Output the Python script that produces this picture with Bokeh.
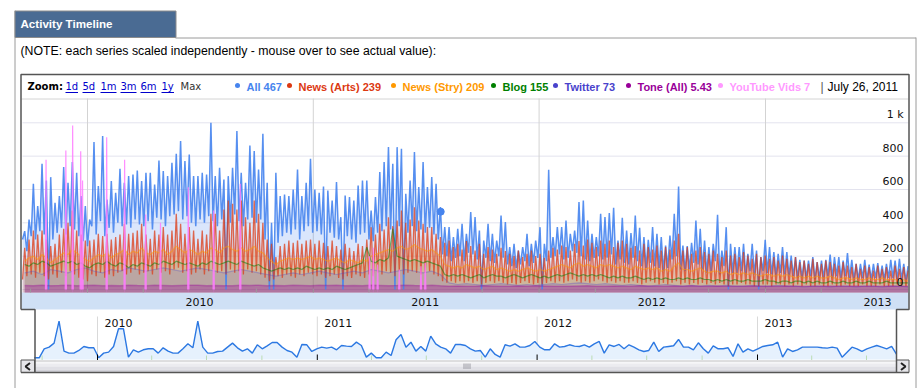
import datetime as dt
from bokeh.plotting import figure
from bokeh.models import Range1d
from bokeh.core.properties import value
from bokeh.embed import file_html
from bokeh.resources import INLINE

# ---------------------------------------------------------------- data
series_start = "2009-09-18"
series_end = "2013-08-20"

# "All" series: weekly high (weekday) and low (weekend) values
all_peak = [350, 420, 634, 500, 754, 654, 674, 520, 560, 734,
            640, 764, 700, 560, 500, 420, 884, 620, 920, 540,
            650, 580, 724, 640, 680, 690, 714, 650, 700, 700,
            630, 774, 710, 680, 760, 814, 890, 770, 810, 680,
            680, 700, 690, 1000, 680, 730, 660, 680, 730, 950,
            700, 640, 864, 830, 720, 934, 640, 400, 700, 560,
            570, 560, 600, 720, 560, 640, 784, 600, 580,
            618, 594, 534, 644, 434, 564, 554, 534, 624, 654,
            654, 474, 554, 704, 764, 854, 754, 854, 844, 574,
            654, 824, 614, 764, 614, 674, 634, 494, 374, 374,
            314, 364, 394, 334, 464, 434, 354, 294, 394, 334,
            294, 444, 404, 254, 274, 234, 254, 334, 274, 294,
            374, 274, 718, 314, 374, 374, 414, 334, 354, 524,
            534, 414, 334, 314, 454,
            434, 458, 490, 294, 430, 354, 338, 444, 370, 314,
            298, 374, 334, 314, 264, 324, 454, 618, 264, 260,
            280, 414, 364, 294, 254, 274, 448, 234, 374, 274,
            254, 254, 274, 214, 274, 234, 194, 298, 254, 224,
            214, 254, 224, 204, 194, 178, 174, 174, 194, 164,
            174, 178, 210, 194, 194, 174, 218, 178, 154, 154,
            178, 150, 154, 158, 144, 154, 178, 174, 184, 154, 140]
all_low = [300, 230, 320, 300, 350, 330, 0, 300, 340, 370,
           330, 380, 360, 320, 290, 260, 380, 330, 410, 320,
           370, 340, 400, 380, 390, 370, 420, 390, 380, 410,
           360, 430, 420, 380, 440, 450, 470, 420, 440, 400,
           380, 420, 400, 440, 410, 380, 420, 0, 400, 450,
           410, 380, 420, 430, 400, 420, 300, 0, 0, 280,
           320, 340, 330, 360, 300, 350, 380, 340, 350, 330,
           0, 340, 310, 300, 0, 320, 300, 280, 330, 340,
           300, 290, 340, 350, 380, 360, 0, 380, 0, 340,
           380, 350, 360, 340, 370, 330, 300, 210, 200, 170,
           190, 200, 170, 220, 210, 180, 0, 190, 170, 160,
           200, 190, 150, 140, 130, 150, 170, 140, 160, 190,
           0, 170, 190, 200, 210, 180, 190, 230, 220, 200,
           180, 170, 190, 200, 180, 190, 210, 150, 180, 160,
           150, 190, 170, 140, 130, 160, 140, 130, 110, 130,
           180, 200, 120, 110, 120, 160, 150, 120, 100, 110,
           170, 90, 140, 0, 100, 100, 110, 90, 110, 90,
           0, 110, 100, 90, 80, 100, 90, 80, 80, 70,
           70, 70, 80, 60, 70, 70, 80, 70, 80, 70,
           80, 70, 60, 60, 70, 60, 60, 70, 60, 60,
           70, 70, 60, 60, 50]

# "News (Arts)": weekly high and low
arts_peak = [250, 300, 354, 330, 354, 300, 260, 274, 330, 364,
             400, 474, 354, 330, 294, 294, 300, 334, 320, 334,
             300, 314, 330, 394, 334, 340, 354, 394, 330, 304,
             354, 330, 374, 330, 354, 454, 394, 334, 374, 354,
             304, 354, 330, 454, 454, 354,
             480, 534, 514, 480, 534, 434, 400, 534, 454, 400,
             300, 274, 194, 260, 274, 294, 280, 294, 274, 294,
             300, 274, 294,
             280, 260, 294, 260, 240, 274, 250, 230, 274, 260,
             300, 374, 330, 394, 360, 434, 380, 414, 474, 400,
             420, 494, 414, 394, 374, 374, 334, 314, 280, 294,
             254, 274, 240, 290, 260, 234, 274, 214, 254, 240,
             214, 250, 230, 214, 200, 234, 194, 214, 234, 200,
             214, 190, 234, 250, 240, 264, 254, 234, 274, 290,
             264, 300, 280, 254, 294,
             274, 294, 254, 280, 294, 274, 250, 260, 234, 274,
             254, 240, 264, 234, 254, 240, 294, 334, 234, 254,
             214, 234, 254, 224, 214, 234, 214, 194, 234, 204,
             214, 194, 224, 204, 184, 214, 194, 204, 184, 194,
             174, 204, 184, 174, 194, 164, 174, 154, 184, 164,
             154, 174, 164, 154, 144, 164, 144, 134, 154, 124,
             144, 134, 114, 144, 124, 134, 114, 144, 124, 134, 114]
arts_low = [60, 80, 90, 70, 100, 80, 60, 90, 70, 100,
            80, 110, 90, 70, 60, 50, 90, 80, 100, 70,
            90, 80, 100, 110, 90, 100, 120, 90, 100, 110,
            90, 120, 100, 110, 90, 120, 130, 100, 110, 90,
            100, 120, 90, 110, 120, 100, 110, 90, 120, 100,
            110, 90, 120, 100, 110, 90, 70, 50, 60, 80,
            70, 90, 80, 70, 90, 80, 100, 90, 80, 90,
            70, 80, 90, 70, 60, 80, 70, 90, 80, 70,
            90, 80, 100, 90, 110, 100, 80, 110, 90, 100,
            110, 100, 90, 100, 110, 90, 80, 50, 40, 50,
            40, 50, 40, 50, 40, 50, 30, 40, 50, 40,
            50, 40, 30, 40, 30, 40, 50, 40, 30, 40,
            30, 40, 50, 40, 50, 40, 50, 60, 50, 40,
            50, 40, 50, 60, 50, 40, 50, 40, 50, 40,
            40, 50, 40, 30, 40, 50, 40, 30, 40, 30,
            40, 50, 30, 40, 30, 40, 30, 40, 30, 40,
            30, 40, 30, 20, 30, 30, 40, 30, 30, 20,
            20, 30, 30, 20, 30, 30, 20, 30, 20, 30,
            20, 30, 20, 20, 30, 20, 20, 30, 20, 20,
            30, 20, 20, 20, 30, 20, 20, 20, 30, 20,
            20, 20, 30, 20, 20]

# "News (Stry)" and "Blog": weekly values
stry_weekly = [170, 190, 200, 180, 210, 190, 160, 180, 200, 220,
               210, 240, 220, 200, 180, 170, 190, 210, 200, 220,
               190, 210, 220, 240, 210, 230, 220, 250, 220, 210,
               230, 220, 240, 210, 230, 260, 240, 220, 240, 230,
               210, 230, 220, 250, 240, 220, 250, 260, 240, 230,
               250, 230, 240, 260, 230, 220, 190, 170, 150, 170,
               180, 190, 180, 190, 180, 190, 200, 180, 190, 180,
               170, 180, 190, 170, 160, 180, 170, 160, 180, 170,
               200, 210, 220, 230, 240, 230, 250, 260, 240, 250,
               270, 250, 240, 230, 240, 220, 200, 150, 140, 130,
               140, 130, 150, 140, 130, 140, 120, 130, 140, 120,
               130, 120, 110, 120, 110, 120, 130, 120, 110, 120,
               110, 120, 130, 140, 150, 140, 130, 150, 160, 140,
               150, 140, 130, 150, 140, 150, 140, 130, 140, 130,
               120, 140, 130, 120, 130, 120, 130, 110, 120, 110,
               140, 160, 120, 120, 110, 120, 130, 110, 100, 110,
               110, 100, 110, 90, 100, 90, 100, 90, 100, 90,
               80, 90, 90, 80, 90, 80, 90, 80, 70, 80,
               70, 80, 70, 80, 70, 70, 80, 70, 60, 70,
               70, 60, 70, 60, 60, 70, 60, 60, 70, 60,
               60, 60, 50, 60, 50]
blog_weekly = [150, 140, 160, 150, 170, 160, 140, 150, 160, 170,
               160, 170, 150, 160, 140, 130, 150, 160, 150, 170,
               150, 140, 160, 150, 130, 150, 140, 160, 150, 140,
               160, 150, 170, 160, 150, 170, 160, 150, 160, 150,
               140, 160, 150, 170, 160, 150, 160, 170, 160, 150,
               170, 160, 150, 140, 150, 130, 120, 110, 120, 130,
               120, 130, 120, 130, 120, 140, 130, 120, 130, 120,
               130, 120, 140, 130, 120, 130, 140, 150, 160, 254,
               170, 160, 180, 170, 190, 364, 200, 190, 180, 170,
               180, 170, 160, 170, 160, 150, 140, 90, 80, 90,
               80, 90, 80, 70, 80, 90, 70, 80, 90, 80,
               80, 70, 80, 90, 80, 70, 80, 90, 80, 70,
               80, 70, 80, 90, 80, 90, 100, 90, 80, 90,
               80, 90, 80, 90, 80, 70, 80, 70, 80, 70,
               70, 80, 70, 60, 70, 60, 70, 60, 70, 60,
               60, 70, 60, 70, 60, 60, 70, 60, 60, 50,
               60, 50, 60, 50, 60, 50, 50, 60, 50, 50,
               50, 60, 50, 50, 40, 50, 50, 40, 50, 50,
               40, 50, 40, 50, 40, 40, 50, 40, 40, 50,
               40, 40, 50, 40, 40, 50, 40, 40, 40, 50,
               40, 40, 40, 40, 40]

# "Twitter" and "Tone (All)": two-weekly values
twitter_biweekly = [100, 110, 90, 120, 110, 100, 120, 130, 110, 100,
                    120, 110, 130, 120, 110, 120, 130, 120, 110, 120,
                    130, 120, 110, 100, 110, 120, 110, 100, 90, 80,
                    90, 100, 90, 100, 110, 100, 90, 100, 110, 100,
                    120, 110, 100, 110, 120, 110, 100, 110,
                    90, 40, 30, 35, 30, 25, 30, 35, 30, 25,
                    30, 25, 30, 35, 30, 35, 40, 35, 30, 35,
                    30, 25, 30, 25, 20, 25, 30, 25, 20, 25,
                    20, 25, 20, 25, 20, 20, 25, 20, 20, 25,
                    20, 20, 15, 20, 20, 15, 20, 20, 15, 20,
                    20, 15, 20, 20, 15]
tone_biweekly = [24, 22, 25, 23, 24, 26, 22, 24, 25, 23,
                 24, 22, 26, 24, 23, 25, 24, 22, 24, 26,
                 25, 23, 24, 22, 23, 25, 24, 26, 23, 24,
                 22, 25, 24, 23, 25, 24, 26, 23, 24, 22,
                 25, 24, 23, 24, 26, 24, 23, 25, 22, 20,
                 21, 19, 20, 22, 21, 20, 19, 21, 20, 22,
                 21, 20, 19, 20, 21, 22, 20, 19, 21, 20,
                 20, 22, 21, 19, 20, 21, 20, 22, 20, 19,
                 21, 20, 19, 20, 21, 20, 19, 20, 21, 20,
                 19, 20, 20, 21, 19, 20, 21, 20, 19, 20,
                 21, 20, 19]

# "YouTube Vids": isolated daily spikes
youtube_dates = ["2009-10-26", "2009-11-27", "2009-12-08", "2009-12-21", "2009-12-24",
                 "2010-02-01", "2010-03-02", "2010-04-05", "2010-04-29", "2010-06-13",
                 "2010-07-24", "2010-09-05", "2011-04-02", "2011-04-08", "2011-04-15",
                 "2011-05-20", "2011-06-24", "2011-07-01"]
youtube_vals = [778, 834, 984, 830, 654, 914, 778, 450, 400, 614,
                474, 634, 200, 250, 150, 120, 140, 160]

# overview (range selector) series
overview_vals = [0, 0, 27, 32, 44, 110, 20, 14, 14, 22,
                 34, 30, 30, 0, 14, 17, 34, 87, 87, 2,
                 24, 17, 24, 27, 27, 14, 30, 20, 14, 14,
                 27, 42, 30, 110, 32, 14, 14, 19, 20, 32,
                 44, 30, 20, 27, 14, 39, 27, 36, 46, 46,
                 32, 22, 17, 2, 40, 39, 19, 27, 32, 29,
                 32, 24, 37, 35, 34, 47, 37, 2, 14, 0,
                 0, 17, 7, 54, 70, 32, 47, 20, 34, 20,
                 65, 42, 32, 27, 14, 40, 40, 37, 27, 20,
                 22, 2, 27, 10, 2, 39, 35, 42, 32, 32,
                 37, 49, 32, 24, 24, 42, 32, 34, 39, 35,
                 34, 39, 32, 42, 49, 14, 39, 34, 40, 27,
                 39, 32, 24, 19, 22, 47, 19, 32, 34, 36,
                 55, 32, 32, 24, 45, 27, 14, 36, 27, 27,
                 30, 4, 42, 17, 27, 20, 27, 34, 37, 39,
                 47, 2, 27, 19, 24, 32, 32, 32, 32, 30,
                 29, 32, 29, 2, 17, 32, 27, 19, 27, 32,
                 37, 32, 27, 34, 10]

legend_names = ["All", "News (Arts)", "News (Stry)", "Blog", "Twitter", "Tone (All)", "YouTube Vids"]
legend_values = ["467", "239", "209", "155", "73", "5.43", "7"]
legend_date = "July 26, 2011"
hover_date = "2011-07-26"
hover_all = 467

y_ticks = [0, 200, 400, 600, 800, 1000]
y_labels = ["0", "200", "400", "600", "800", "1 k"]
year_labels = ["2010", "2011", "2012", "2013"]
quarter_ticks = ["2009-10-01", "2010-01-01", "2010-04-01", "2010-10-01", "2011-01-01",
                 "2011-04-01", "2011-10-01", "2012-01-01", "2012-04-01", "2012-10-01",
                 "2013-01-01", "2013-04-01"]
nav_quarter_ticks = ["2009-10-01", "2010-04-01", "2010-07-01", "2010-10-01", "2011-04-01",
                     "2011-07-01", "2011-10-01", "2012-04-01", "2012-07-01", "2012-10-01",
                     "2013-04-01", "2013-07-01"]
zoom_links = ["1d", "5d", "1m", "3m", "6m", "1y"]
title_text = "Activity Timeline"
note_text = "(NOTE: each series scaled independently - mouse over to see actual value):"

# ---------------------------------------------------------------- styles / layout
C_ALL, C_ARTS, C_STRY, C_BLOG = "#4684ee", "#dc3912", "#ff9900", "#008000"
C_TW, C_TONE, C_YT = "#4942cc", "#990099", "#ff7bff"
legend_colors = [C_ALL, C_ARTS, C_STRY, C_BLOG, C_TW, C_TONE, "#ff99ff"]

W, H, OFF = 918, 388, 0
M_L, M_R, M_T, M_B = 22.0, 908.0, 98.0, 292.0
Y_ZERO, Y_1K = 289.0, 122.3
X_2010, X_2013 = 87.0, 765.0
N_L, N_R, N_T, N_B = 34.0, 896.0, 309.0, 360.0
N_BASE = 357.3
NX_2010, NX_2013 = 97.0, 757.0

EPOCH = dt.datetime(1970, 1, 1)
DAY = 86400000.0


def ms(d):
    if isinstance(d, str):
        d = dt.datetime.fromisoformat(d)
    return (d - EPOCH).total_seconds() * 1000.0


D2010, D2013 = ms("2010-01-01"), ms("2013-01-01")
PPD = (X_2013 - X_2010) / ((D2013 - D2010) / DAY)
NPPD = (NX_2013 - NX_2010) / ((D2013 - D2010) / DAY)
PPU = (Y_ZERO - Y_1K) / 1000.0
NPPU = 1.0 / 3.0


def t_at(px):
    return D2010 + (px - X_2010) / PPD * DAY


def v_at(py):
    return (Y_ZERO - py) / PPU


def nt_at(px):
    return D2010 + (px - NX_2010) / NPPD * DAY


def nv_at(py):
    return (N_BASE - py) / NPPU


p = figure(width=W, height=H,
           x_range=Range1d(OFF, OFF + W), y_range=Range1d(OFF + H, OFF),
           x_axis_type=None, y_axis_type=None, toolbar_location=None,
           output_backend="svg", min_border=0)
p.outline_line_color = None
p.background_fill_color = "white"
p.border_fill_color = "white"
p.extra_x_ranges = {"t": Range1d(t_at(OFF), t_at(OFF + W)),
                    "nt": Range1d(nt_at(OFF), nt_at(OFF + W))}
p.extra_y_ranges = {"v": Range1d(v_at(OFF + H), v_at(OFF)),
                    "nv": Range1d(nv_at(OFF + H), nv_at(OFF))}
MAIN = dict(x_range_name="t", y_range_name="v")
NAV = dict(x_range_name="nt", y_range_name="nv")


def txt(x, y, s, font="Liberation Sans", size="12px", color="#000000", align="left",
        style="normal", xo=0, yo=0, **kw):
    p.text(x=x, y=y, text=s, text_font=value(font), text_font_size=size,
           text_color=color, text_align=align, text_baseline="middle",
           text_font_style=style, x_offset=xo, y_offset=yo, **kw)


# ------------------------------------------------ panel, tab and note
p.segment(x0=[14.5, 915.5, 175], y0=[10, 37, 37.5], x1=[14.5, 915.5, 915.5], y1=[OFF + H, OFF + H, 37.5],
          line_color="#9a9a9a", line_width=1)
p.quad(left=14.5, right=175.5, top=10.5, bottom=37, fill_color="#4a6b93",
       line_color="#8c8c8c", line_width=1)
txt([20], [22.5], [title_text], size="11.6px", color="#ffffff", style="bold")
txt([20], [50.5], [note_text], size="12.3px", color="#000000")

# ------------------------------------------------ zoom / legend row
txt([27], [86], ["Zoom:"], font="DejaVu Sans", size="10px", style="bold", color="#000000")
link_x = [65, 82, 100, 120, 140, 161]
link_w = [12.5, 12.5, 16, 16, 16, 12.5]
txt(link_x, [86] * len(link_x), zoom_links, font="DejaVu Sans", size="10px", color="#0000cc")
p.segment(x0=link_x, x1=[a + b for a, b in zip(link_x, link_w)], y0=[92] * 6, y1=[92] * 6,
          line_color="#0000cc", line_width=1)
txt([180], [86], ["Max"], font="DejaVu Sans", size="10px", color="#333333")
dot_x = [237, 289, 393, 493, 555, 628, 720]
p.scatter(x=dot_x, y=[85] * 7, size=5, marker="circle", fill_color=legend_colors,
          line_color=None)
txt([d + 9 for d in dot_x], [86] * 7,
    [f"{n} {v}" for n, v in zip(legend_names, legend_values)], size="11px",
    color=legend_colors, style="bold")
txt([820], [86], ["|"], size="12px", color="#555555")
txt([827], [86], [legend_date], size="12px", color="#000000")
p.segment(x0=[21], x1=[908], y0=[98.5], y1=[98.5], line_color="#d4d4d4", line_width=1)

# ------------------------------------------------ axis band
p.quad(left=21, right=908, top=M_B, bottom=N_T, fill_color="#cfe0f5", line_color=None)

# ------------------------------------------------ main grid
V_BASE = v_at(M_B)
year_starts = [ms(f"{y}-01-01") for y in year_labels]
p.segment(x0=[t_at(M_L)] * len(y_ticks), x1=[t_at(M_R)] * len(y_ticks), y0=y_ticks, y1=y_ticks,
          line_color="#e3e3ee", line_width=1, **MAIN)
p.segment(x0=year_starts, x1=year_starts, y0=[V_BASE] * 4, y1=[v_at(M_T)] * 4,
          line_color="#d3d3d3", line_width=1, **MAIN)

# ------------------------------------------------ main series
start = ms(series_start)


def day(n):
    return start + n * DAY


wk_x, all_y, arts_y = [], [], []
for i, (ap, al, rp, rl) in enumerate(zip(all_peak, all_low, arts_peak, arts_low)):
    wk_x += [day(7 * i), day(7 * i + 3.5)]
    all_y += [al, ap]
    arts_y += [rl, rp]
stry_x = [day(7 * i + 3.5) for i in range(len(stry_weekly))]
blog_x = [day(7 * i + 3.5) for i in range(len(blog_weekly))]
tw_x = [day(14 * k + 3.5) for k in range(len(twitter_biweekly))]
tone_x = [day(14 * k + 3.5) for k in range(len(tone_biweekly))]

p.varea(x=wk_x, y1=V_BASE, y2=all_y, fill_color=C_ALL, fill_alpha=0.2, **MAIN)
p.varea(x=wk_x, y1=V_BASE, y2=arts_y, fill_color=C_ARTS, fill_alpha=0.2, **MAIN)
p.varea(x=stry_x, y1=V_BASE, y2=stry_weekly, fill_color=C_STRY, fill_alpha=0.17, **MAIN)
p.varea(x=blog_x, y1=V_BASE, y2=blog_weekly, fill_color=C_BLOG, fill_alpha=0.08, **MAIN)
p.varea(x=tw_x, y1=V_BASE, y2=twitter_biweekly, fill_color=C_TW, fill_alpha=0.14, **MAIN)
p.varea(x=tone_x, y1=V_BASE, y2=tone_biweekly, fill_color=C_TONE, fill_alpha=0.3, **MAIN)

p.line(x=wk_x, y=all_y, line_color=C_ALL, line_width=1.5, line_alpha=0.9, **MAIN)
p.line(x=wk_x, y=arts_y, line_color=C_ARTS, line_width=1.3, line_alpha=0.72, **MAIN)
p.line(x=stry_x, y=stry_weekly, line_color=C_STRY, line_width=1.2, line_alpha=0.5, **MAIN)
p.line(x=blog_x, y=blog_weekly, line_color=C_BLOG, line_width=1.2, line_alpha=0.5, **MAIN)
p.line(x=tw_x, y=twitter_biweekly, line_color=C_TW, line_width=1.2, line_alpha=0.3, **MAIN)
p.line(x=tone_x, y=tone_biweekly, line_color=C_TONE, line_width=1.5, line_alpha=0.35, **MAIN)

yt_x = [[ms(d) - DAY, ms(d), ms(d) + DAY] for d in youtube_dates]
p.patches(xs=yt_x, ys=[[V_BASE, v, V_BASE] for v in youtube_vals], fill_color=C_YT,
          fill_alpha=0.15, line_color=None, **MAIN)
p.multi_line(xs=yt_x, ys=[[0, v, 0] for v in youtube_vals], line_color=C_YT, line_width=1.2,
             line_alpha=0.85, **MAIN)
p.scatter(x=[ms(hover_date)], y=[hover_all], size=7, fill_color=C_ALL, line_color=C_ALL, **MAIN)

# ------------------------------------------------ main axis labels / ticks
qt = [ms(d) for d in quarter_ticks]
p.segment(x0=qt, x1=qt, y0=[V_BASE] * len(qt), y1=[v_at(M_B - 4)] * len(qt),
          line_color="#9a9a9a", line_width=1, **MAIN)
txt([ms(f"{y}-07-01") for y in year_labels], [v_at(301)] * 4, year_labels,
    font="DejaVu Sans", size="11px", color="#111111", align="center", **MAIN)
txt([t_at(M_R - 5)] * len(y_ticks), y_ticks, y_labels, font="DejaVu Sans", size="11px",
    color="#111111", align="right", yo=-8, **MAIN)

# ------------------------------------------------ overview navigator
n_ov = len(overview_vals)
span = (ms(series_end) - start) / DAY
ov_x = [day(k * span / (n_ov - 1)) for k in range(n_ov)]
nq = [ms(d) for d in nav_quarter_ticks]
p.segment(x0=year_starts, x1=year_starts, y0=[0] * 4, y1=[nv_at(316)] * 4,
          line_color="#d9d9d9", line_width=1, **NAV)
p.varea(x=ov_x, y1=nv_at(N_B - 1), y2=overview_vals, fill_color="#e6f1fd", **NAV)
p.line(x=ov_x, y=overview_vals, line_color="#2c78e2", line_width=1.4, **NAV)
p.segment(x0=nq, x1=nq, y0=[nv_at(N_B - 0.5)] * len(nq), y1=[nv_at(N_B - 5)] * len(nq),
          line_color="#bcdcb4", line_width=1, **NAV)
p.segment(x0=year_starts, x1=year_starts, y0=[nv_at(N_B - 0.5)] * 4, y1=[nv_at(N_B - 6)] * 4,
          line_color="#000000", line_width=1, **NAV)
txt(year_starts, [nv_at(322)] * 4, year_labels, font="DejaVu Sans", size="11px",
    color="#111111", xo=7, **NAV)

# ------------------------------------------------ scrollbar
SB_T, SB_B = N_B, 372.0
strips = ["#f6f6f8", "#ececf0", "#e0e0e6", "#d3d3da"]
sh = (SB_B - SB_T) / len(strips)
p.quad(left=[N_L] * 4, right=[N_R] * 4, top=[SB_T + k * sh for k in range(4)],
       bottom=[SB_T + (k + 1) * sh for k in range(4)], fill_color=strips, line_color=None)
p.segment(x0=[N_L], x1=[N_R], y0=[SB_T + 0.5], y1=[SB_T + 0.5], line_color="#c4c4c4")
grip = [463.5, 465.5, 467.5, 469.5]
p.segment(x0=grip, x1=grip, y0=[363] * 4, y1=[368.5] * 4, line_color="#9c9ca4", line_width=1)
p.quad(left=[20.5, N_R], right=[N_L, 908.5], top=[SB_T - 0.5] * 2, bottom=[SB_B] * 2,
       fill_color="#e6e6ea", line_color="#555555", line_width=1)
p.multi_line(xs=[[29.5, 25, 29.5], [900.5, 905, 900.5]], ys=[[362.5, 366, 369.5]] * 2,
             line_color="#222222", line_width=2)

# ------------------------------------------------ chart box outline
p.multi_line(xs=[[20.5, 20.5, 908.5, 908.5, N_R, N_R], [20.5, N_L + 0.5, N_L + 0.5],
                 [20.5, 908.5]],
             ys=[[N_T, 74, 74, N_T, N_T, SB_B], [N_T, N_T, SB_B], [SB_B, SB_B]],
             line_color="#555555", line_width=1.5)

open("out.html", "w").write(file_html(p, INLINE))
